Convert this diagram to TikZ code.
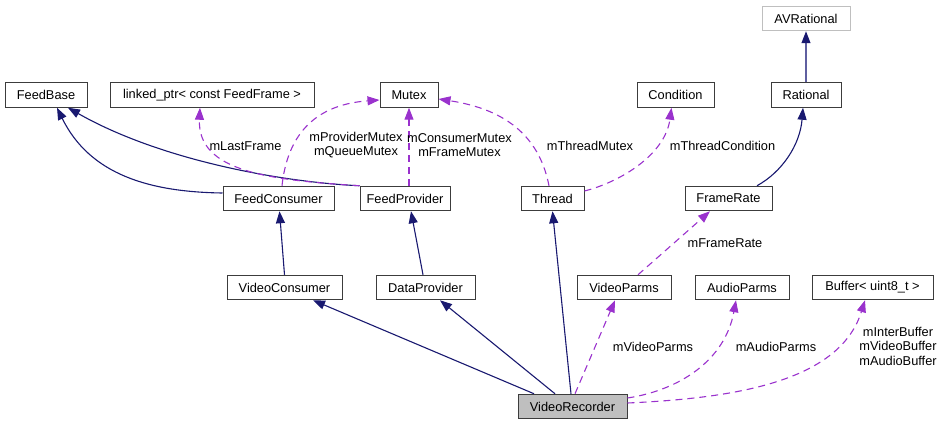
\documentclass[tikz,border=0pt]{standalone}
\usepackage{fontspec}
\setmainfont{Liberation Sans}
\usetikzlibrary{arrows.meta}
\definecolor{navy}{RGB}{25,25,112}
\definecolor{paleNavy}{RGB}{95,95,160}
\definecolor{orch}{RGB}{154,50,205}
\definecolor{boxline}{RGB}{60,60,60}
\definecolor{lightline}{RGB}{191,191,191}
\definecolor{curfill}{RGB}{191,191,191}
\begin{document}
\begin{tikzpicture}[x=1pt,y=-1pt,
  font=\fontsize{12.8}{14.5}\selectfont,
  cls/.style={draw=boxline, line width=1pt, fill=white, inner sep=0pt,
    minimum height=24.5pt, align=center},
  lbl/.style={inner sep=0pt, align=center},
  inh/.style={draw=navy, line width=1.1pt,
    -{Triangle[length=12pt,width=9pt,fill=navy]}},
  use/.style={draw=orch, line width=1.1pt, dash pattern=on 7pt off 5pt,
    -{Triangle[length=12pt,width=9pt,fill=orch]}}]
\useasboundingbox (0,0) rectangle (945,425);
% nodes
\node[cls, minimum width=82pt] (FeedBase) at (46,95) {FeedBase};
\node[cls, minimum width=204pt] (Linked) at (212,95) {linked\_ptr< const FeedFrame >};
\node[cls, minimum width=58pt] (Mutex) at (409,95) {Mutex};
\node[cls, minimum width=77pt] (Condition) at (675.5,95) {Condition};
\node[cls, minimum width=70pt] (Rational) at (806,95) {Rational};
\node[cls, draw=lightline, minimum width=88pt] (AVRational) at (806,18.5) {AVRational};
\node[cls, minimum width=111pt] (FeedConsumer) at (278.5,198.5) {FeedConsumer};
\node[cls, minimum width=90pt] (FeedProvider) at (405,198.5) {FeedProvider};
\node[cls, minimum width=63pt] (Thread) at (552.5,198.5) {Thread};
\node[cls, minimum width=87pt] (FrameRate) at (728.5,198.5) {FrameRate};
\node[cls, minimum width=115pt] (VideoConsumer) at (284.5,287.5) {VideoConsumer};
\node[cls, minimum width=99pt] (DataProvider) at (425.5,287.5) {DataProvider};
\node[cls, minimum width=94pt] (VideoParms) at (624,287.5) {VideoParms};
\node[cls, minimum width=94pt] (AudioParms) at (742,287.5) {AudioParms};
\node[cls, minimum width=121pt] (Buffer) at (872.5,287.5) {Buffer< uint8\_t >};
\node[cls, fill=curfill, minimum width=109pt] (VideoRecorder) at (572.5,406.5) {VideoRecorder};
% inheritance
\draw[inh] ([yshift=5.5pt]FeedConsumer.west) .. controls (150,192) and (90,175) .. ([xshift=11pt]FeedBase.south);
\draw[inh] (FeedProvider.north west) .. controls (280,182) and (160,160) .. ([xshift=22pt]FeedBase.south);
\draw[inh] (VideoConsumer.north) -- ([xshift=1pt]FeedConsumer.south);
\draw[inh] ([xshift=-2.5pt]DataProvider.north) -- ([xshift=6pt]FeedProvider.south);
\draw[inh] ([xshift=-38.5pt]VideoRecorder.north) -- ([xshift=28.5pt]VideoConsumer.south);
\draw[inh] ([xshift=-17.5pt]VideoRecorder.north) -- ([xshift=14.5pt]DataProvider.south);
\draw[inh] ([xshift=-1.5pt]VideoRecorder.north) -- (Thread.south);
\draw[inh] ([xshift=28.5pt]FrameRate.north) .. controls (782,172) and (800,145) .. ([xshift=-3pt]Rational.south);
\draw[draw=paleNavy, line width=1.1pt, -{Triangle[length=12pt,width=9pt,color=navy,fill=navy]}] (Rational.north) -- (AVRational.south);
% usage
\draw[use] (FeedProvider.north west) .. controls (270,180) and (197,172) .. ([xshift=-12pt]Linked.south);
\node[lbl] (lLastFrame) at (245.5,146) {mLastFrame};
\draw[use] ([xshift=3.5pt]FeedConsumer.north) .. controls (287,140) and (310,105) .. ([yshift=-5pt]Mutex.west);
\node[lbl] (lProv) at (356,145) {mProviderMutex\\mQueueMutex};
\draw[use] ([xshift=4pt]FeedProvider.north) -- ([xshift=0pt]Mutex.south);
\node[lbl] (lCons) at (459.5,145) {mConsumerMutex\\mFrameMutex};
\draw[use] ([xshift=-3.5pt]Thread.north) .. controls (540,140) and (510,110) .. ([yshift=-4pt]Mutex.east);
\node[lbl] (lThrM) at (590,146) {mThreadMutex};
\draw[use] ([yshift=7.5pt]Thread.east) .. controls (620,182) and (665,155) .. ([xshift=-4pt]Condition.south);
\node[lbl] (lThrC) at (722.5,146) {mThreadCondition};
\draw[use] ([xshift=14pt]VideoParms.north) -- ([xshift=-18.5pt]FrameRate.south);
\node[lbl] (lFR) at (725,243) {mFrameRate};
\draw[use] ([xshift=2.5pt]VideoRecorder.north) -- ([xshift=-9pt]VideoParms.south);
\node[lbl] (lVP) at (653,347) {mVideoParms};
\draw[use] ([yshift=8.5pt]VideoRecorder.east) .. controls (680,390) and (725,360) .. ([xshift=-6pt]AudioParms.south);
\node[lbl] (lAP) at (776,347) {mAudioParms};
\draw[use] ([yshift=3.5pt]VideoRecorder.east) .. controls (740,398) and (840,380) .. ([xshift=-7.5pt]Buffer.south);
\node[lbl] (lBuf) at (898,346) {mInterBuffer\\mVideoBuffer\\mAudioBuffer};
\end{tikzpicture}
\end{document}
